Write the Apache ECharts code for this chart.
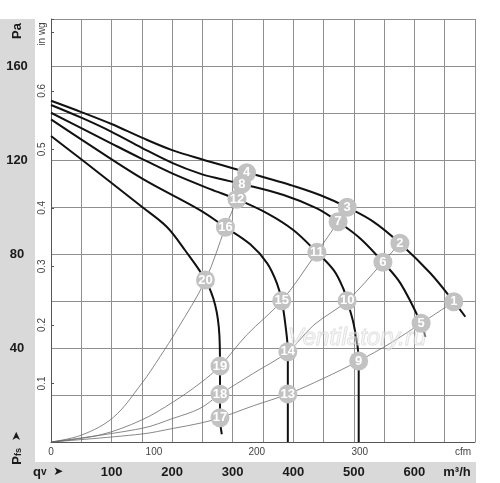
<!DOCTYPE html>
<html>
<head>
<meta charset="utf-8">
<script src="https://cdn.jsdelivr.net/npm/echarts@6/dist/echarts.min.js"></script>
<style>
html,body{margin:0;padding:0;background:#fff;}
#main{width:500px;height:483px;}
</style>
</head>
<body>
<div id="main"></div>
<script>
// tick labels
var paLabels=[40,80,120,160];
var qvLabels=[100,200,300,400,500,600];
var cfmLabels=[0,100,200,300];
var inwgLabels=[0.1,0.2,0.3,0.4,0.5,0.6];

// fan curves [m3/h, Pa]
var curveA=[[0,145.2],[50,140.4],[100,135.3],[150,129.5],[200,124.2],[250,120.2],[300,116.5],[323,114.8],[360,112.0],[400,109.0],[445,105.0],[489,99.9],[532,93.8],[576,84.6],[626,71.9],[665,59.7],[684,53.3]];
var curveB=[[0,143.4],[50,138.0],[100,132.0],[150,125.2],[200,118.8],[246,114.2],[280,111.9],[315,109.8],[384,105.1],[439,99.4],[474,93.7],[511,86.5],[548,76.5],[577,67.5],[611,50.5],[618,44.8]];
var curveC=[[0,140.1],[50,133.6],[100,127.0],[150,120.5],[200,114.3],[263,107.6],[307,103.3],[357,97.3],[400,90.2],[439,80.7],[467,73.0],[483,65.0],[489,60.1],[500,49.8],[508,34.5],[508,18],[508,0]];
var curveD=[[0,137.3],[51,128.6],[150,112.2],[246,98.7],[288,91.4],[329,84.1],[357,76],[373,67.5],[381,60.1],[387,49.8],[391,38.4],[391,20.4],[391,0]];
var curveE=[[0,130.2],[51,120.1],[150,100.1],[191,91.6],[221,81.7],[255,68.9],[271,58.3],[278,45.5],[279,32.3],[279,20.3],[279,10.3],[282,3.3]];

// system curves
var sys1=[[0,0],[150,3.4],[202,5.8],[246,8],[279,10.3],[334,15.4],[391,20.4],[450,27.1],[508,34.5],[560,42],[611,50.5],[665,59.7]];
var sys2=[[0,0],[150,5.8],[202,10.1],[246,14.3],[279,20.3],[334,29.2],[391,38.4],[434,49.8],[489,60.1],[548,76.5],[576,84.6]];
var sys3=[[0,0],[81,3],[150,9.4],[202,17.1],[246,25],[279,32.3],[323,45.5],[381,60.1],[439,80.7],[474,93.7],[489,99.9]];
var sys4=[[0,0],[51,3],[103,10.5],[150,25],[180,36.3],[208,47.7],[255,68.9],[288,91.4],[307,103.3],[315,109.8],[323,114.6]];

// numbered points
var pointNo=[1,2,3,4,5,6,7,8,9,10,11,12,13,14,15,16,17,18,19,20];
var pointQ=[665,576,489,323,611,548,474,315,508,489,439,307,391,391,381,288,279,279,279,255];
var pointP=[59.7,84.6,99.9,114.6,50.5,76.5,93.7,109.8,34.5,60.1,80.7,103.3,20.4,38.4,60.1,91.4,10.3,20.3,32.3,68.9];

var FONT='Liberation Sans, Arial, sans-serif';
var GRID='#8f8f8f';
var BAND='#d9d9d9';

function has(arr,val){
	for(var i=0;i<arr.length;i++){
		if(Math.abs(arr[i]-val)<1e-6) return true;
	}
	return false;
}

var points=[];
for(var i=0;i<pointNo.length;i++){
	points.push([pointQ[i],pointP[i],pointNo[i]]);
}

function fanLine(data){
	return {
		type:'line',
		data:data,
		smooth:0.35,
		showSymbol:false,
		silent:true,
		z:3,
		lineStyle:{color:'#111',width:2}
	};
}
function sysLine(data){
	return {
		type:'line',
		data:data,
		smooth:0.35,
		showSymbol:false,
		silent:true,
		z:2,
		lineStyle:{color:'#6a6a6a',width:0.8}
	};
}

var option={
	animation:false,
	grid:{left:51,top:19,width:424,height:423,containLabel:false},
	graphic:[
		{type:'rect',z:-10,shape:{x:0,y:19,width:35,height:464},style:{fill:BAND}},
		{type:'rect',z:-10,shape:{x:0,y:462,width:476,height:21},style:{fill:BAND}},
		{type:'text',x:17,y:31,rotation:Math.PI/2,style:{text:'Pa',font:'bold 13px '+FONT,fill:'#1a1a1a',align:'center',verticalAlign:'middle'}},
		{type:'text',x:17,y:448,rotation:Math.PI/2,style:{
			text:'{p|P}{s|fs}  {a|➤}',align:'center',verticalAlign:'middle',
			rich:{p:{font:'bold 13px '+FONT,fill:'#1a1a1a'},s:{font:'bold 9px '+FONT,fill:'#1a1a1a',verticalAlign:'bottom'},a:{font:'12px DejaVu Sans',fill:'#1a1a1a'}}
		}},
		{type:'text',x:33,y:472,style:{
			text:'{q|q}{v|v}  {a|➤}',verticalAlign:'middle',
			rich:{q:{font:'bold 13px '+FONT,fill:'#1a1a1a'},v:{font:'bold 10px '+FONT,fill:'#1a1a1a'},a:{font:'12px DejaVu Sans',fill:'#1a1a1a'}}
		}},
		{type:'text',x:457,y:472,style:{text:'m³/h',font:'bold 13px '+FONT,fill:'#1a1a1a',align:'center',verticalAlign:'middle'}},
		{type:'text',x:463,y:452,style:{text:'cfm',font:'10px '+FONT,fill:'#444',align:'center',verticalAlign:'middle'}},
		{type:'text',x:42,y:34,rotation:Math.PI/2,style:{text:'in wg',font:'10px '+FONT,fill:'#444',align:'center',verticalAlign:'middle'}},
		{type:'text',x:357,y:338,z:50,style:{text:'Ventilatory.ru',font:'italic 24px '+FONT,fill:'rgba(240,240,240,0.4)',stroke:'rgba(200,200,200,0.6)',lineWidth:1,align:'center',verticalAlign:'middle'}}
	],
	xAxis:[
		{
			type:'value',min:0,max:700,interval:50,position:'bottom',
			axisLine:{show:true,lineStyle:{color:'#555',width:1}},
			axisTick:{show:false},
			splitLine:{show:true,lineStyle:{color:GRID,width:1}},
			axisLabel:{
				margin:30,verticalAlign:'middle',
				color:'#1a1a1a',fontFamily:FONT,fontSize:13,fontWeight:'bold',
				formatter:function(v){return has(qvLabels,v)?String(v):'';}
			}
		},
		{
			type:'value',min:0,max:700/1.69901,interval:100,position:'bottom',
			axisLine:{show:false},
			axisTick:{show:false},
			splitLine:{show:false},
			axisLabel:{
				margin:10,verticalAlign:'middle',
				color:'#444',fontFamily:FONT,fontSize:10,
				formatter:function(v){return has(cfmLabels,v)?String(v):'';}
			}
		}
	],
	yAxis:[
		{
			type:'value',min:0,max:180,interval:20,position:'left',
			axisLine:{show:true,lineStyle:{color:'#555',width:1}},
			axisTick:{show:false},
			splitLine:{show:true,lineStyle:{color:GRID,width:1}},
			axisLabel:{
				margin:34,align:'center',
				color:'#1a1a1a',fontFamily:FONT,fontSize:13,fontWeight:'bold',
				formatter:function(v){return has(paLabels,v)?String(v):'';}
			}
		},
		{
			type:'value',min:0,max:180/249.089,interval:0.1,position:'left',
			axisLine:{show:false},
			axisTick:{show:true,inside:true,length:3,lineStyle:{color:'#555'}},
			splitLine:{show:false},
			axisLabel:{
				margin:9,rotate:90,align:'center',verticalAlign:'middle',
				color:'#444',fontFamily:FONT,fontSize:10,
				formatter:function(v){return has(inwgLabels,v)?v.toFixed(1):'';}
			}
		}
	],
	series:[
		sysLine(sys1),sysLine(sys2),sysLine(sys3),sysLine(sys4),
		fanLine(curveA),fanLine(curveB),fanLine(curveC),fanLine(curveD),fanLine(curveE),
		{
			type:'scatter',
			data:points,
			symbol:'circle',
			symbolSize:19,
			silent:true,
			z:10,
			itemStyle:{color:'#c2c2c2',opacity:1},
			label:{
				show:true,position:'inside',
				color:'#fff',fontFamily:FONT,fontSize:13,fontWeight:'bold',
				formatter:function(p){return String(p.value[2]);}
			}
		}
	]
};

var myChart=echarts.init(document.getElementById('main'));
myChart.setOption(option);
</script>
</body>
</html>
